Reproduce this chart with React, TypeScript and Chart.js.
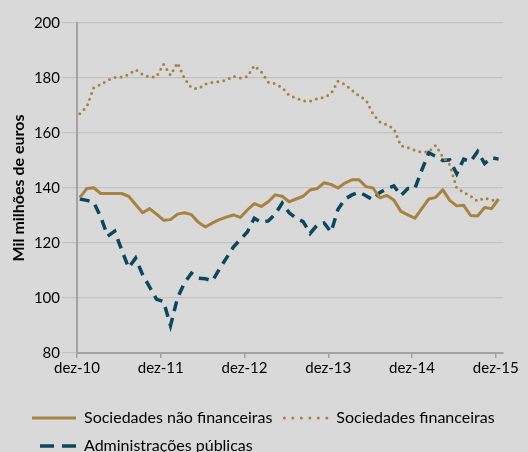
import { useEffect, useRef } from 'react';
import { Chart, registerables } from 'chart.js';

Chart.register(...registerables);

const tickLabels = ['dez-10', 'dez-11', 'dez-12', 'dez-13', 'dez-14', 'dez-15'];
const seriesNames = ['Sociedades não financeiras', 'Sociedades financeiras', 'Administrações públicas'];

const naoFinanceiras = [
  136.5, 139.8, 140.1, 138, 138, 138, 138, 137, 134, 131,
  132.5, 130.5, 128.3, 128.5, 130.5, 131, 130.3, 127.5, 125.8, 127.3,
  128.5, 129.4, 130.2, 129.3, 132, 134.3, 133.3, 135, 137.5, 137,
  135, 136, 137, 139.3, 139.8, 141.9, 141.3, 140, 141.8, 143,
  143, 140.5, 140, 136.4, 137.3, 135.6, 131.5, 130.2, 129, 132.5,
  136, 136.6, 139.4, 135.5, 133.5, 133.7, 130, 129.8, 132.9, 132.5, 136,
];

const financeiras = [
  167, 169.5, 176.5, 177.6, 179.2, 180.2, 180.4, 181.2, 183, 181.3,
  180.3, 180.4, 185, 181, 185.5, 179.8, 176.4, 176.1, 177.8, 178.4,
  178.7, 179.2, 180.7, 180, 180.5, 184.5, 182.3, 178.5, 177.9, 176.5,
  173.7, 172.7, 171.7, 171.6, 172.5, 173, 174.3, 178.8, 177.6, 175.5,
  173.5, 172, 167, 164, 163, 161.6, 155.3, 154.7, 153.7, 153,
  153.2, 155.5, 151.3, 148.5, 140, 138.4, 137, 135.2, 136.4, 135.6, 135.5,
];

const publicas = [
  136, 135.5, 134.8, 129.5, 122.5, 124.3, 117.5, 111, 114.5, 108.5,
  104, 99.5, 98.7, 90, 100, 105.5, 109, 107.2, 107, 106.2,
  110.5, 114.5, 118.5, 121.3, 124, 129, 127.5, 128, 130.5, 134.5,
  131, 129, 127.8, 123.5, 126.5, 127.3, 124, 132.3, 136, 137.5,
  138.5, 137.2, 135.7, 138.4, 139.7, 140.8, 137.3, 139.8, 139.8, 146.5,
  152.8, 151.5, 150, 150.2, 145.2, 150.5, 149.6, 153.3, 148.9, 151, 150.5,
];

const GOLD = '#A68341';
const NAVY = '#0C4760';

export default function App() {
  const ref = useRef<HTMLCanvasElement>(null);

  useEffect(() => {
    document.documentElement.style.overflow = 'hidden';
    document.body.style.overflow = 'hidden';
    document.body.style.background = '#d9d9d9';
    Chart.defaults.font.family = 'Lato';

    const toPoints = (arr: number[]) => arr.map((y, i) => ({ x: i + 0.4, y }));
    const legendDash: any[] = [
      { dash: [], offset: 0 },
      { dash: [0, 8.5], offset: 0 },
      { dash: [14, 8], offset: 14 },
    ];

    const chart = new Chart(ref.current as HTMLCanvasElement, {
      type: 'line',
      data: {
        datasets: [
          {
            label: seriesNames[0],
            data: toPoints(naoFinanceiras),
            borderColor: GOLD,
            backgroundColor: GOLD,
            borderWidth: 3,
            pointRadius: 0,
            borderJoinStyle: 'round',
            tension: 0,
          },
          {
            label: seriesNames[1],
            data: toPoints(financeiras),
            borderColor: GOLD,
            backgroundColor: GOLD,
            borderWidth: 3,
            borderDash: [0, 6],
            borderCapStyle: 'round',
            pointRadius: 0,
            tension: 0,
          },
          {
            label: seriesNames[2],
            data: toPoints(publicas),
            borderColor: NAVY,
            backgroundColor: NAVY,
            borderWidth: 3.5,
            borderDash: [10, 7],
            borderCapStyle: 'butt',
            pointRadius: 0,
            tension: 0,
          },
        ],
      },
      options: {
        responsive: false,
        animation: false,
        layout: { padding: { left: 12, right: 0, top: 15, bottom: 0 } },
        plugins: {
          tooltip: { enabled: false },
          legend: {
            position: 'bottom',
            align: 'start',
            labels: {
              usePointStyle: true,
              pointStyle: 'line',
              pointStyleWidth: 44,
              boxHeight: 16,
              padding: 12,
              color: '#000',
              font: { family: 'Lato', size: 16 },
              generateLabels: (c: any) =>
                c.data.datasets.map((ds: any, i: number) => ({
                  text: ds.label,
                  fillStyle: ds.borderColor,
                  strokeStyle: ds.borderColor,
                  fontColor: '#000',
                  lineWidth: ds.borderWidth,
                  lineDash: legendDash[i].dash,
                  lineDashOffset: legendDash[i].offset,
                  lineCap: ds.borderCapStyle || 'butt',
                  pointStyle: 'line',
                  hidden: false,
                  datasetIndex: i,
                })),
            },
          },
        },
        scales: {
          x: {
            type: 'linear',
            min: 0,
            max: 61,
            ticks: {
              stepSize: 12,
              includeBounds: false,
              autoSkip: false,
              maxRotation: 0,
              padding: 1,
              color: '#000',
              font: { family: 'Lato', size: 15 },
              callback: (v: any) => tickLabels[Math.round(Number(v) / 12)] ?? '',
            },
            grid: { drawOnChartArea: false, drawTicks: true, tickLength: 5, color: '#a3a3a3', lineWidth: 1.5 },
            border: { color: '#a3a3a3', width: 2 },
            afterFit: (s: any) => {
              s.height = 45;
            },
          },
          y: {
            min: 80,
            max: 200,
            ticks: {
              stepSize: 20,
              padding: 2,
              color: '#000',
              font: { family: 'Lato', size: 15 },
            },
            grid: { color: '#c2c2c2', tickLength: 15, lineWidth: 1.2 },
            border: { color: '#a3a3a3', width: 2 },
            title: {
              display: true,
              text: 'Mil milhões de euros',
              color: '#000',
              font: { family: 'Lato', size: 16, weight: 'bold' },
              padding: { top: -11, bottom: 0 },
            },
            afterFit: (s: any) => {
              s.width = 57;
            },
          },
          y2: {
            position: 'right',
            display: true,
            ticks: { display: false },
            grid: { display: false },
            border: { display: false },
            afterFit: (s: any) => {
              s.width = 14;
            },
          },
        },
      },
    } as any);

    return () => chart.destroy();
  }, []);

  return (
    <div style={{ background: '#d9d9d9' }}>
      <canvas ref={ref} width={512} height={456} style={{ display: 'block' }} />
    </div>
  );
}
